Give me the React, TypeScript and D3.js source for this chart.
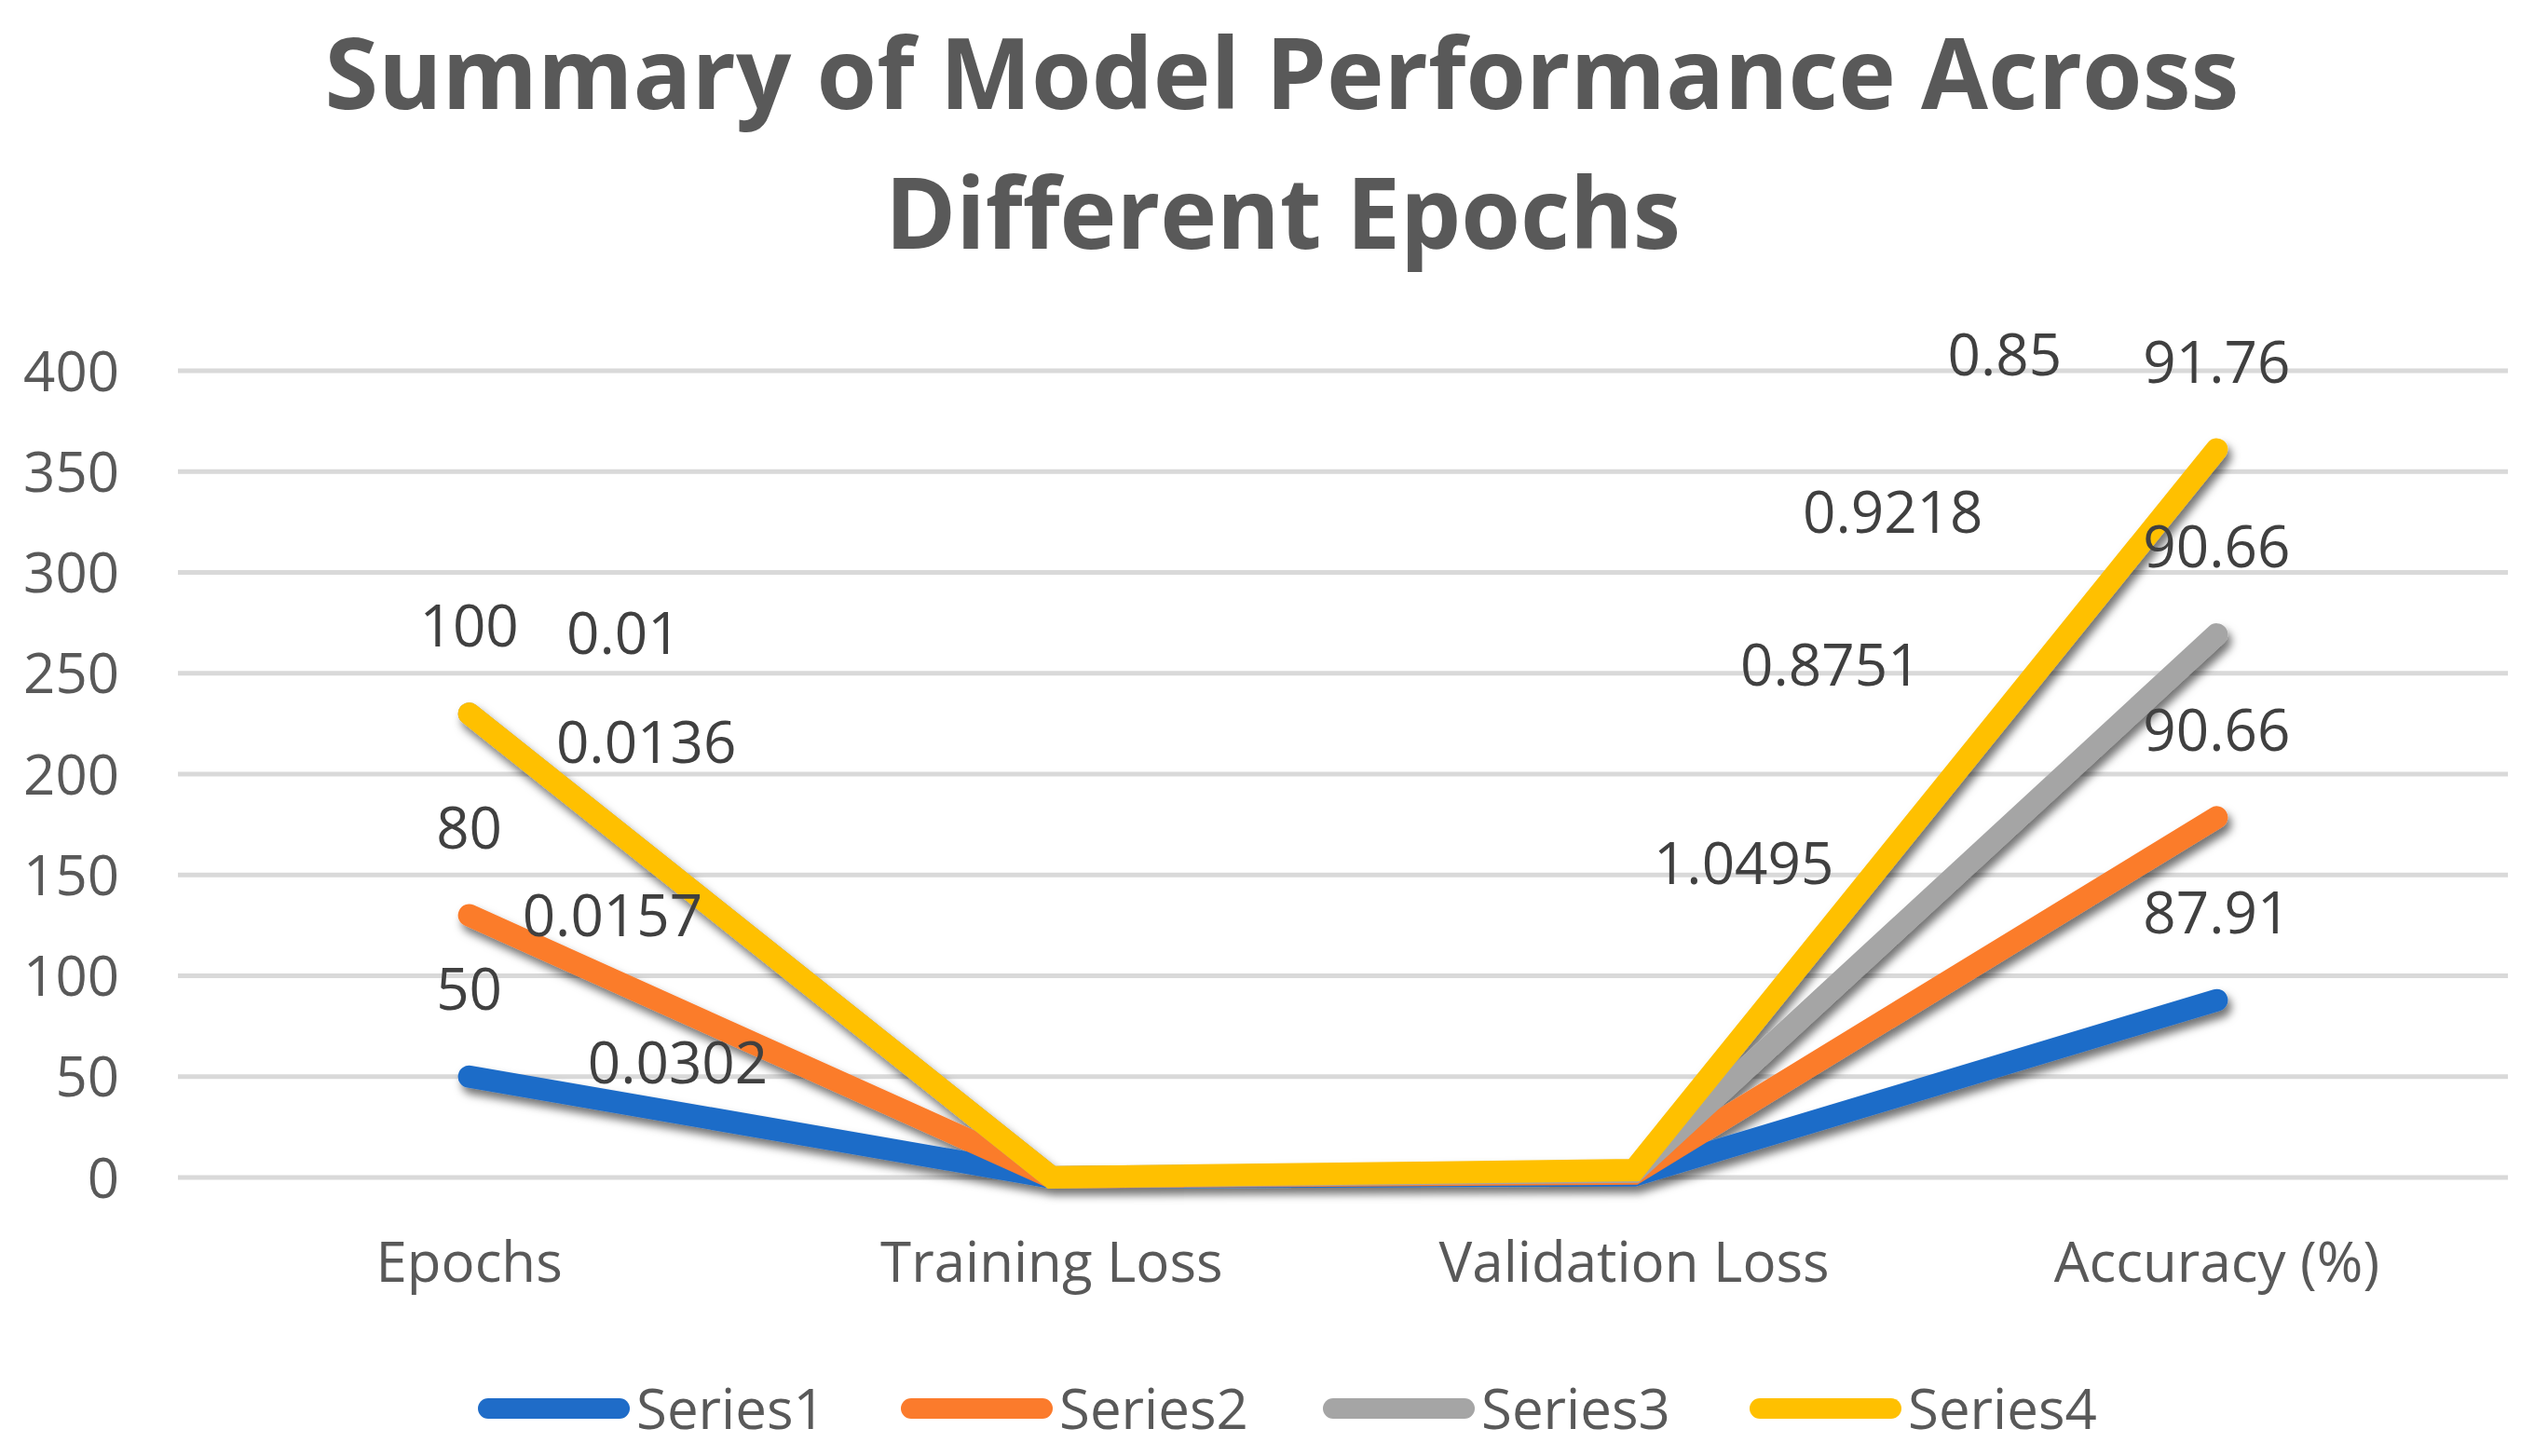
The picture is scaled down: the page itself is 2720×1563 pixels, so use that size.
import React, { useEffect } from 'react';
import * as d3 from 'd3';

// chart data
const categories = ['Epochs', 'Training Loss', 'Validation Loss', 'Accuracy (%)'];
const seriesNames = ['Series1', 'Series2', 'Series3', 'Series4'];
const series1 = [50, 0.0302, 1.0495, 87.91];
const series2 = [80, 0.0157, 0.8751, 90.66];
const series3 = [100, 0.0136, 0.9218, 90.66];
const series4: (number | null)[] = [null, 0.01, 0.85, 91.76];
const seriesColors = ['#1f6cc8', '#fb7b2c', '#a5a5a5', '#ffc000'];
const yTicks = [0, 50, 100, 150, 200, 250, 300, 350, 400];

// the loss labels were dragged off their points in the original: where they sit (category index, value level)
const trainingLabelAt = [0.358, 0.246, 0.304, 0.265];
const trainingLabelLevel = [57, 130, 216, 270];
const validationLabelAt = [2.188, 2.337, 2.444, 2.636];
const validationLabelLevel = [156, 254, 330, 408];

const W = 2720;
const H = 1563;
const font = "'Open Sans', 'Noto Sans', sans-serif";

export default function App() {
  useEffect(() => {
    document.body.style.margin = '0';
  }, []);

  const x = d3.scalePoint<string>().domain(categories).range([191, 2692]).padding(0.5);
  const y = d3.scaleLinear().domain([0, 400]).range([1264, 398]);
  const step = x.step();

  const allSeries = [series1, series2, series3, series4];
  const rows = categories.map((c, i) => {
    const r: any = { cat: c };
    seriesNames.forEach((s, k) => (r[s] = allSeries[k][i] ?? 0));
    return r;
  });
  const stacked = d3.stack<any>().keys(seriesNames)(rows);

  const line = d3
    .line<any>()
    .x((d) => x(d.data.cat) as number)
    .y((d) => y(d[1]));

  const labels: { t: string; x: number; y: number }[] = [];
  // epochs + accuracy labels sit above their points
  [0, 3].forEach((ci) => {
    stacked.forEach((layer, k) => {
      const v = allSeries[k][ci];
      if (v == null) return;
      labels.push({ t: String(v), x: x(categories[ci]) as number, y: y(layer[ci][1]) - 94 });
    });
  });
  const x0 = x(categories[0]) as number;
  allSeries.forEach((s, k) => {
    labels.push({ t: String(s[1]), x: x0 + trainingLabelAt[k] * step, y: y(trainingLabelLevel[k]) });
    labels.push({ t: String(s[2]), x: x0 + validationLabelAt[k] * step, y: y(validationLabelLevel[k]) });
  });

  const legendX = [512, 966, 1419, 1877];

  return (
    <svg width={W} height={H} style={{ display: 'block', background: '#fff' }}>
      <defs>
        <filter id="shadow" x="-10%" y="-10%" width="130%" height="130%">
          <feDropShadow dx="4" dy="7" stdDeviation="5" floodColor="#000" floodOpacity="0.55" />
        </filter>
      </defs>

      <text x={1376} y={117} textAnchor="middle" fontFamily={font} fontWeight={700} fontSize={106}
        fill="#595959" textLength={2055} lengthAdjust="spacingAndGlyphs">
        Summary of Model Performance Across
      </text>
      <text x={1377} y={267} textAnchor="middle" fontFamily={font} fontWeight={700} fontSize={106}
        fill="#595959" textLength={854} lengthAdjust="spacingAndGlyphs">
        Different Epochs
      </text>

      {yTicks.map((t) => (
        <g key={t}>
          <line x1={191} x2={2692} y1={y(t)} y2={y(t)} stroke="#d9d9d9" strokeWidth={5} />
          <text x={128} y={y(t)} dy="0.36em" textAnchor="end" fontFamily={font} fontSize={60} fill="#595959">
            {t}
          </text>
        </g>
      ))}

      {categories.map((c) => (
        <text key={c} x={x(c)} y={1376} textAnchor="middle" fontFamily={font} fontSize={60} fill="#595959">
          {c}
        </text>
      ))}

      <g filter="url(#shadow)">
        {stacked.map((layer, k) => (
          <path key={k} d={line(layer) as string} fill="none" stroke={seriesColors[k]} strokeWidth={24}
            strokeLinecap="round" strokeLinejoin="miter" />
        ))}
      </g>

      {labels.map((l, i) => (
        <text key={i} x={l.x} y={l.y} dy="0.36em" textAnchor="middle" fontFamily={font} fontSize={62} fill="#404040">
          {l.t}
        </text>
      ))}

      {seriesNames.map((s, k) => (
        <g key={s}>
          <line x1={legendX[k] + 12} x2={legendX[k] + 153} y1={1512} y2={1512} stroke={seriesColors[k]}
            strokeWidth={22} strokeLinecap="round" />
          <text x={legendX[k] + 171} y={1512} dy="0.36em" fontFamily={font} fontSize={60} fill="#595959">
            {s}
          </text>
        </g>
      ))}
    </svg>
  );
}
